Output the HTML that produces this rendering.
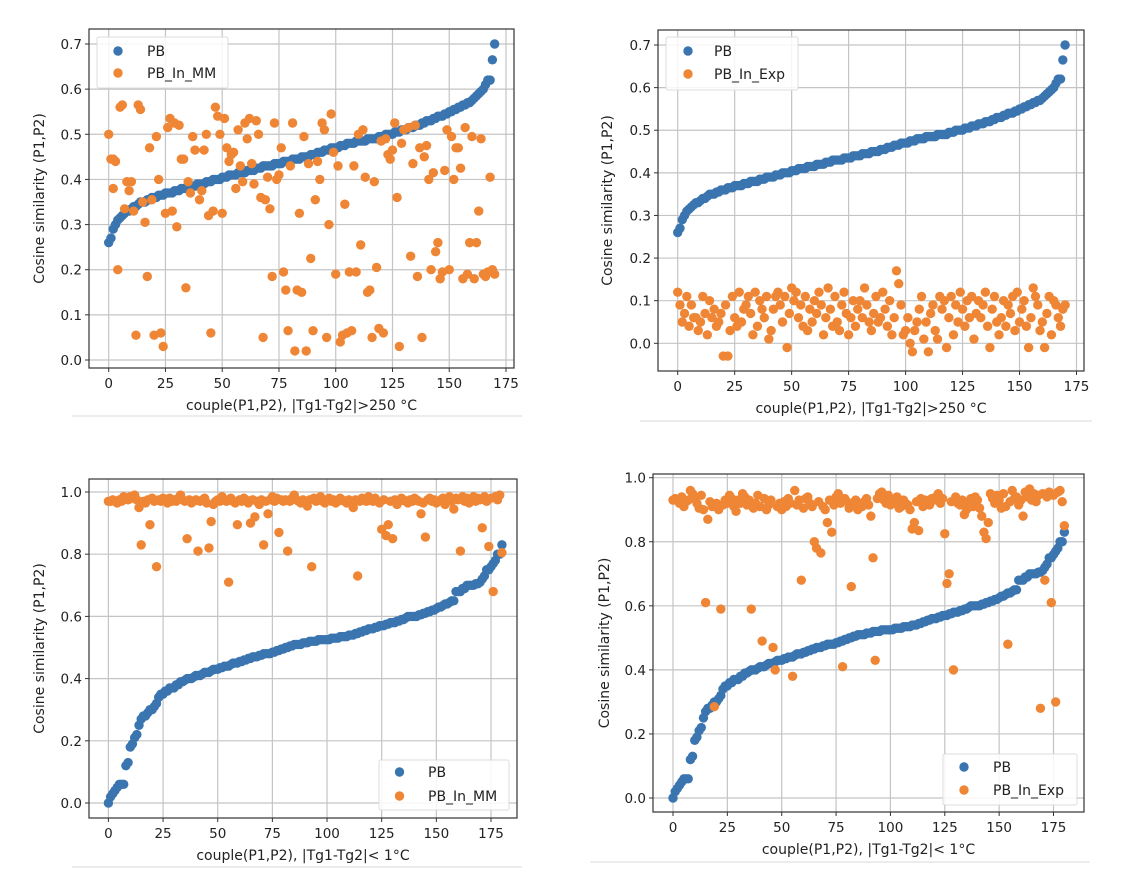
<!DOCTYPE html>
<html><head><meta charset="utf-8"><style>
html,body{margin:0;padding:0;background:#fff;}
svg{display:block;font-family:"DejaVu Sans","Liberation Sans",sans-serif;}
</style></head><body>
<svg id="fig" width="1126" height="886" viewBox="0 0 1126 886" xmlns="http://www.w3.org/2000/svg"></svg>
<script>
const xTicks=[0,25,50,75,100,125,150,175];
const yTicksHigh=[0,0.1,0.2,0.3,0.4,0.5,0.6,0.7];
const yTicksLow=[0,0.2,0.4,0.6,0.8,1.0];
const yTickLabelsHigh=["0.0","0.1","0.2","0.3","0.4","0.5","0.6","0.7"];
const yTickLabelsLow=["0.0","0.2","0.4","0.6","0.8","1.0"];

const pbHigh=[.26,.27,.29,.30,.31,.315,.32,.325,.33,.33,
.335,.34,.34,.345,.35,.35,.35,.355,.355,.36,
.36,.36,.365,.365,.365,.37,.37,.37,.37,.375,
.375,.375,.38,.38,.38,.38,.385,.385,.385,.39,
.39,.39,.39,.395,.395,.395,.40,.40,.40,.40,
.405,.405,.405,.41,.41,.41,.41,.415,.415,.415,
.415,.42,.42,.42,.42,.425,.425,.425,.43,.43,
.43,.43,.43,.435,.435,.435,.435,.44,.44,.44,
.44,.445,.445,.445,.445,.45,.45,.45,.45,.455,
.455,.455,.46,.46,.46,.465,.465,.465,.47,.47,
.47,.47,.475,.475,.475,.48,.48,.48,.48,.485,
.485,.485,.485,.485,.49,.49,.49,.49,.49,.495,
.495,.495,.50,.50,.50,.50,.505,.505,.505,.51,
.51,.51,.515,.515,.515,.52,.52,.52,.525,.525,
.53,.53,.53,.535,.535,.54,.54,.54,.545,.545,
.55,.55,.555,.555,.56,.56,.565,.565,.57,.57,
.575,.58,.585,.59,.595,.60,.61,.62,.62,.665,.70];

const mmHighX=[0,1,2,3,2,4,5,6,7,8,9,10,11,12,13,14,15,16,17,18,19,20,21,22,23,24,25,26,27,28,29,30,31,32,33,34,35,36,37,38,40,41,42,43,44,45,46,47,48,49,50,51,52,53,54,55,56,57,58,59,60,61,62,63,64,65,66,67,68,69,70,71,72,73,74,75,76,77,78,79,80,81,82,83,84,85,86,87,88,89,90,91,92,93,94,95,96,97,98,99,100,101,102,103,104,105,106,107,108,109,110,111,112,113,114,115,116,117,118,119,120,121,122,123,124,125,126,127,128,129,130,132,133,134,135,136,137,138,139,140,141,142,143,144,145,146,147,148,149,150,151,152,153,154,155,156,157,158,159,160,161,162,163,164,165,166,167,168,169,170];
const mmHighY=[.50,.445,.445,.44,.38,.20,.56,.565,.335,.395,.375,.395,.33,.055,.565,.555,.35,.305,.185,.47,.355,.055,.495,.40,.06,.03,.325,.515,.535,.33,.525,.295,.52,.445,.445,.16,.395,.37,.495,.465,.355,.375,.465,.50,.32,.06,.33,.56,.54,.50,.325,.535,.47,.44,.455,.46,.38,.51,.43,.395,.525,.49,.535,.435,.39,.53,.50,.36,.05,.355,.405,.335,.185,.525,.40,.41,.47,.195,.155,.065,.43,.525,.02,.155,.325,.15,.495,.02,.435,.225,.065,.355,.44,.40,.525,.51,.05,.30,.545,.46,.19,.43,.04,.055,.345,.06,.195,.065,.43,.195,.50,.255,.51,.405,.15,.155,.05,.395,.205,.07,.485,.06,.49,.455,.445,.465,.525,.36,.03,.48,.51,.515,.23,.435,.52,.185,.47,.05,.45,.475,.40,.20,.415,.24,.26,.18,.195,.42,.51,.20,.495,.40,.47,.47,.425,.18,.515,.19,.26,.495,.18,.26,.33,.49,.19,.185,.195,.405,.20,.19];

const expHigh=[.12,.09,.05,.07,.11,.04,.09,.06,.06,.03,
.05,.11,.07,.02,.10,.06,.08,.04,.05,.07,
-.03,.09,-.03,.03,.11,.06,.04,.12,.05,.08,
.09,.11,.07,.02,.12,.04,.10,.08,.06,.11,
.01,.03,.08,.11,.12,.09,.05,.11,-.01,.07,
.13,.10,.12,.06,.09,.04,.11,.03,.08,.05,
.10,.07,.12,.09,.02,.06,.13,.08,.04,.11,
.05,.03,.09,.12,.07,.02,.06,.10,.04,.08,
.10,.06,.13,.09,.05,.03,.07,.11,.05,.06,
.12,.08,.04,.10,.02,.06,.17,.14,.09,.02,
.03,.06,.00,-.02,.03,.05,.08,.11,.01,.05,
-.02,.07,.09,.03,.01,.11,.08,.10,-.01,.06,
.11,.02,.09,.05,.12,.08,.04,.10,.06,.11,
.01,.07,.10,.06,.09,.12,.04,-.01,.08,.11,
.05,.02,.06,.10,.04,.09,.07,.11,.03,.12,
.05,.08,.10,.04,-.01,.06,.13,.11,.09,.03,
.05,-.01,.07,.11,.02,.10,.09,.06,.04,.08,.09];

const pbLow=[0,.02,.03,.04,.05,.06,.06,.06,.12,.13,.18,.19,.21,.22,.25,.27,.28,.28,.29,.30,.30,.31,.32,.34,.35,.35,.36,.36,.37,.37,.37,.38,.38,.39,.39,.395,.40,.40,.40,.405,.41,
.41,.41,.415,.42,.42,.42,.425,.43,.43,.43,
.435,.435,.44,.44,.44,.445,.45,.45,.45,.455,
.455,.46,.46,.465,.465,.47,.47,.47,.475,.475,
.48,.48,.48,.48,.485,.485,.49,.49,.495,.495,
.50,.50,.505,.505,.51,.51,.51,.51,.515,.515,
.515,.52,.52,.52,.52,.525,.525,.525,.525,.525,
.525,.53,.53,.53,.53,.535,.535,.535,.535,.54,
.54,.54,.545,.545,.55,.55,.555,.555,.56,.56,
.56,.565,.565,.57,.57,.57,.575,.575,.58,.58,
.58,.585,.585,.59,.59,.595,.60,.60,.60,.60,
.60,.605,.605,.61,.61,.615,.615,.62,.62,.625,
.63,.63,.635,.64,.64,.645,.65,.65,.68,.68,
.68,.69,.69,.70,.70,.70,.70,.705,.705,.71,
.72,.73,.75,.75,.76,.77,.78,.80,.80,.83];

const mmLow=[.97,.97,.975,.97,.965,.975,.97,.985,.98,.975,
.985,.98,.99,.975,.95,.83,.97,.965,.975,.895,
.98,.97,.76,.975,.97,.98,.975,.965,.98,.97,
.975,.97,.98,.99,.975,.97,.85,.975,.965,.97,
.975,.81,.97,.975,.98,.965,.82,.905,.96,.97,
.975,.97,.985,.975,.97,.71,.98,.97,.965,.895,
.975,.97,.98,.975,.965,.90,.975,.92,.97,.96,
.975,.83,.97,.93,.975,.985,.97,.98,.87,.975,
.97,.975,.81,.97,.98,.99,.975,.97,.965,.975,
.97,.955,.975,.76,.98,.97,.975,.985,.97,.965,
.975,.98,.97,.975,.965,.97,.98,.975,.97,.965,
.975,.97,.95,.975,.73,.97,.98,.975,.97,.985,
.975,.97,.98,.97,.965,.88,.975,.86,.895,.97,
.85,.975,.96,.97,.98,.975,.97,.965,.975,.97,
.98,.975,.97,.93,.965,.855,.975,.98,.97,.975,
.965,.97,.975,.98,.96,.975,.985,.97,.945,.98,
.975,.81,.985,.97,.98,.965,.975,.985,.97,.98,
.975,.885,.985,.97,.825,.98,.68,.985,.975,.99,.805];

const expLow=[.93,.935,.93,.92,.94,.91,.925,.93,.96,.95,
.935,.92,.905,.945,.90,.61,.87,.925,.91,.285,
.92,.90,.59,.915,.93,.92,.945,.935,.91,.895,
.93,.92,.95,.94,.915,.93,.59,.905,.92,.945,
.91,.49,.935,.90,.915,.93,.47,.40,.91,.92,
.90,.925,.91,.935,.92,.38,.96,.915,.93,.68,
.905,.935,.94,.92,.91,.80,.78,.925,.765,.91,
.90,.86,.93,.83,.915,.94,.95,.92,.41,.935,
.925,.905,.66,.915,.93,.90,.92,.91,.925,.935,
.915,.88,.75,.43,.935,.95,.955,.93,.92,.945,
.915,.93,.92,.94,.905,.91,.93,.92,.915,.90,
.84,.86,.925,.835,.935,.91,.93,.92,.915,.935,
.93,.94,.95,.92,.935,.825,.67,.70,.925,.40,
.94,.92,.915,.93,.885,.90,.92,.935,.91,.94,
.93,.905,.88,.83,.81,.86,.95,.935,.92,.945,
.93,.905,.95,.91,.48,.925,.96,.935,.94,.915,
.93,.88,.955,.94,.965,.93,.95,.925,.945,.28,
.95,.68,.94,.955,.61,.945,.30,.955,.96,.925,.85];

const NS="http://www.w3.org/2000/svg";
const svg=document.getElementById('fig');
function mk(tag,attrs,parent){const e=document.createElementNS(NS,tag);for(const k in attrs)e.setAttribute(k,attrs[k]);(parent||svg).appendChild(e);return e;}
const BLUE="#3a75b0",ORANGE="#ef8636";

const panels=[
 {id:'top-left',box:[89,514,29,368],xa:[108.7,506],ya:[360,44],yv:0.7,yt:yTicksHigh,yl:yTickLabelsHigh,
  s1:null,s1y:pbHigh,s2x:mmHighX,s2y:mmHighY,name2:"PB_In_MM",xlab:"couple(P1,P2), |Tg1-Tg2|>250 °C",
  leg:[97,228,37,88],lm:118,lt:147,le:[51,73],ylx:44,sep:[72,522,416]},
 {id:'top-right',box:[658,1084,30,371],xa:[677.7,1076.5],ya:[343.3,45],yv:0.7,yt:yTicksHigh,yl:yTickLabelsHigh,
  s1y:pbHigh,s2x:null,s2y:expHigh,name2:"PB_In_Exp",xlab:"couple(P1,P2), |Tg1-Tg2|>250 °C",
  leg:[666,798,37,90],lm:688,lt:714,le:[51,74],ylx:612,sep:[640,1092,421]},
 {id:'bottom-left',box:[89,517,479,818],xa:[108.4,491],ya:[803,492],yv:1.0,yt:yTicksLow,yl:yTickLabelsLow,
  s1y:pbLow,s2x:null,s2y:mmLow,name2:"PB_In_MM",xlab:"couple(P1,P2), |Tg1-Tg2|< 1°C",
  leg:[379,509,760,810],lm:399.5,lt:428,le:[772,796],ylx:44,sep:[72,522,867]},
 {id:'bottom-right',box:[653,1084,474,812],xa:[673,1053.5],ya:[798,477.7],yv:1.0,yt:yTicksLow,yl:yTickLabelsLow,
  s1y:pbLow,s2x:null,s2y:expLow,name2:"PB_In_Exp",xlab:"couple(P1,P2), |Tg1-Tg2|< 1°C",
  leg:[943,1077,754,805],lm:964,lt:993,le:[767,790],ylx:609,sep:[590,1090,862]}
];

panels.forEach(p=>{
 const g=mk('g',{});
 
 
 const X=v=>p.xa[0]+v*(p.xa[1]-p.xa[0])/175;
 const Y=v=>p.ya[0]+v*(p.ya[1]-p.ya[0])/p.yv;
 const [bx0,bx1,by0,by1]=p.box;
 // separator
 const sep=mk('line',{x1:p.sep[0],x2:p.sep[1],y1:p.sep[2],y2:p.sep[2],stroke:'#ececec','stroke-width':2},g);
 
 
 // grid
 xTicks.forEach(t=>{
  const l=mk('line',{x1:X(t),x2:X(t),y1:by0,y2:by1,stroke:'#c4c4c4','stroke-width':1.2},g);
  
  
  mk('line',{x1:X(t),x2:X(t),y1:by1,y2:by1+4,stroke:'#333','stroke-width':1},g);
  const tx=mk('text',{x:X(t),y:by1+20,'text-anchor':'middle','font-size':13.5,fill:'#222'},g);
  tx.textContent=t;
  
  
 });
 p.yt.forEach((t,i)=>{
  const l=mk('line',{x1:bx0,x2:bx1,y1:Y(t),y2:Y(t),stroke:'#c4c4c4','stroke-width':1.2},g);
  
  
  mk('line',{x1:bx0-4,x2:bx0,y1:Y(t),y2:Y(t),stroke:'#333','stroke-width':1},g);
  const tx=mk('text',{x:bx0-7,y:Y(t)+5,'text-anchor':'end','font-size':13.5,fill:'#222'},g);
  tx.textContent=p.yl[i];
  
  
 });
 // series
 const s1=mk('g',{fill:BLUE},g);
 
 
 p.s1y.forEach((v,i)=>{
  const c=mk('circle',{cx:X(i),cy:Y(v),r:4.7},s1);
  
  
 });
 const s2=mk('g',{fill:ORANGE},g);
 
 
 p.s2y.forEach((v,i)=>{
  const xi=p.s2x?p.s2x[i]:i;
  const c=mk('circle',{cx:X(xi),cy:Y(v),r:4.7},s2);
  
  
 });
 // frame
 const fr=mk('rect',{x:bx0,y:by0,width:bx1-bx0,height:by1-by0,fill:'none',stroke:'#333','stroke-width':1.2},g);
 
 
 // labels
 const xl=mk('text',{x:(bx0+bx1)/2,y:by1+42,'text-anchor':'middle','font-size':14,fill:'#222'},g);
 xl.textContent=p.xlab;
 
 
 const yc=(by0+by1)/2;
 const yl=mk('text',{x:p.ylx,y:yc,'text-anchor':'middle','font-size':14,fill:'#222',transform:`rotate(-90 ${p.ylx} ${yc})`},g);
 yl.textContent="Cosine similarity (P1,P2)";
 
 
 // legend
 const lg=mk('g',{},g);
 
 
 mk('rect',{x:p.leg[0],y:p.leg[2],width:p.leg[1]-p.leg[0],height:p.leg[3]-p.leg[2],fill:'#fff','fill-opacity':0.85,stroke:'#dcdcdc','stroke-width':1,rx:2},lg);
 [["PB",BLUE],[p.name2,ORANGE]].forEach((e,i)=>{
  const en=mk('g',{},lg);
  
  
  mk('circle',{cx:p.lm,cy:p.le[i],r:4.7,fill:e[1]},en);
  const t=mk('text',{x:p.lt,y:p.le[i]+5,'font-size':14,fill:'#222'},en);
  t.textContent=e[0];
 });
});
</script>
</body></html>
